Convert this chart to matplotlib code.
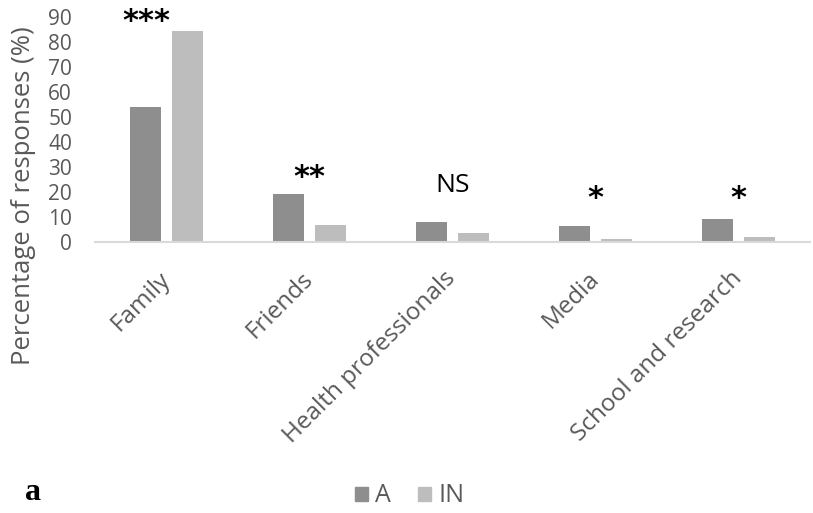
import numpy as np
import matplotlib.pyplot as plt
from matplotlib.patches import Patch

# Quellen der Information: Anteil der Antworten (%) je Gruppe
categories = ["Family", "Friends", "Health professionals", "Media", "School and research"]
group_a = [54.2, 19.2, 7.9, 6.3, 9.4]
group_in = [84.5, 6.8, 3.7, 1.1, 2.1]
significance = ["***", "**", "NS", "*", "*"]

plt.rcParams['font.family'] = ['Open Sans', 'DejaVu Sans']

COL_A = "#8e8e8e"
COL_IN = "#bdbdbd"
TEXT_GREY = "#595959"

fig = plt.figure(figsize=(8.13, 5.13), dpi=100)
ax = fig.add_axes([95 / 813, 1 - 242 / 513, 715 / 813, 225 / 513])

x = np.arange(len(categories))
w = 0.22
off = 0.145
ax.bar(x - off, group_a, w, color=COL_A, label="A")
ax.bar(x + off, group_in, w, color=COL_IN, label="IN")

ax.set_xlim(-0.5, len(categories) - 0.5)
ax.set_ylim(0, 90)
ax.set_yticks(np.arange(0, 91, 10))

for s in ["top", "right", "left"]:
    ax.spines[s].set_visible(False)
ax.spines["bottom"].set_color("#d9d9d9")
ax.spines["bottom"].set_linewidth(1.5)

ax.tick_params(axis="y", length=0, pad=16.5, labelsize=15, labelcolor=TEXT_GREY)
ax.tick_params(axis="x", length=0, pad=24, labelsize=17.5, labelcolor=TEXT_GREY)
ax.set_xticks(x)
ax.set_xticklabels(categories, rotation=45, ha="right", va="center",
                   rotation_mode="anchor")

ax.set_ylabel("Percentage of responses (%)", fontsize=18.5, color=TEXT_GREY)
ax.yaxis.set_label_coords(-59 / 715, 0.204)

# Signifikanzniveaus ueber den Balkenpaaren
sig_y = [88, 26, 22.5, 17.5, 17.5]
sig_dx = [-0.14, 0, 0, 0, 0]
for i, lab in enumerate(significance):
    if lab == "NS":
        ax.text(x[i] + sig_dx[i], sig_y[i], lab, ha="center", va="center",
                fontsize=19, color="black", clip_on=False)
    else:
        ax.text(x[i] + sig_dx[i], sig_y[i], lab, ha="center", va="center",
                fontsize=22, fontweight="bold", color="black",
                family="DejaVu Sans", clip_on=False)

handles = [Patch(color=COL_A, label="A"), Patch(color=COL_IN, label="IN")]
fig.legend(handles=handles, loc="center", bbox_to_anchor=(0.504, 1 - 496 / 513),
           ncol=2, frameon=False, fontsize=18, labelcolor=TEXT_GREY,
           handlelength=0.5, handleheight=0.5, handletextpad=0.3, columnspacing=1.1)

fig.text(33 / 813, 1 - 492 / 513, "a", fontsize=23, fontweight="bold",
         family="Liberation Serif", ha="center", va="center")

fig.savefig("out.png", dpi=100)
